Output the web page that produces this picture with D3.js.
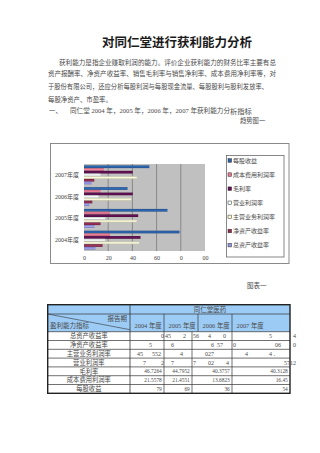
<!DOCTYPE html>
<html><head><meta charset="utf-8">
<script src="https://cdn.jsdelivr.net/npm/d3@7"></script>
<style>
html,body{margin:0;padding:0;background:#fff;}
svg{display:block;}
text{font-family:"Liberation Serif","Noto Sans CJK SC",serif;fill:#4a4a4a;}
</style></head><body>
<svg id="c" width="320" height="453"></svg>
<script>
// ---------- data ----------
const categories = ["2004年度","2005年度","2006年度","2007年度"];
const seriesNames = ["每股收益","成本费用利润率","毛利率","营业利润率","主营业务利润率","净资产收益率","总资产收益率"];
const seriesColors = ["#2a62aa","#e07890","#5e1050","#eefefe","#fffed2","#902c52","#9494e4"];
const eps         = [79, 69, 36, 54];
const costProfit  = [21.5578, 21.4551, 13.6823, 16.45];
const grossMargin = [46.7264, 44.7952, 40.3757, 40.3128];
const opMargin    = [17.4, 17.3, 12.0, 13.6];
const mainMargin  = [45.55, 43.5, 39.03, 43.6];
const roe         = [15.4, 13.7, 6.9, 8.5];
const roa         = [9.6, 8.8, 4.4, 6.3];
const xTicks = [0, 20, 40, 60, 80, 100];
const xTickLabels = ["0","20","40","60","0","00"];

const titleText = "对同仁堂进行获利能力分析";
const paraLines = [
  "获利能力是指企业赚取利润的能力。评价企业获利能力的财务比率主要有总",
  "资产报酬率、净资产收益率、销售毛利率与销售净利率、成本费用净利率等，对",
  "于股份有限公司，还应分析每股利润与每股现金流量、每股股利与股利发放率、",
  "每股净资产、市盈率。"
];
const sectionNo = "一、";
const sectionText = "同仁堂 2004 年，2005 年，2006 年，2007 年获利能力分";
const sectionTail = "析指标";
const chartCaption = "趋势图一";
const tableCaption = "图表一";

const tableTitle = "同仁堂医药";
const headPeriod = "报告期";
const headIndicator = "盈利能力指标";
const yearHeaders = ["2004 年度","2005 年度","2006 年度","2007 年度"];
const rowLabels = ["总资产收益率","净资产收益率","主营业务利润率","营业利润率","毛利率","成本费用利润率","每股收益"];
const sp = n => "\u2007".repeat(n);
const garbledRows = [
  [sp(10)+"0", "45"+sp(4)+"2", "56"+sp(3)+"4"+sp(4)+"0", sp(12)+"5"+sp(7)+"4"],
  [sp(6)+"5", sp(2)+"6", sp(6)+"6"+sp(1)+"57", "0"+sp(13)+"06"+sp(4)+"0"],
  [sp(2)+"45"+sp(3)+"552", sp(5)+"4", sp(4)+"027", sp(4)+"4"+sp(7)+"4 ."],
  [sp(4)+"7"+sp(5)+"2", sp(2)+"7", "7"+sp(4)+"02"+sp(4)+"4", sp(17)+"5712"]
];
const numericRows = [
  ["46.7264","44.7952","40.3757","40.3128"],
  ["21.5578","21.4551","13.6823","16.45"],
  ["79","69","36","54"]
];

// ---------- drawing ----------
const svg = d3.select("#c");
const seriesValues = [eps, costProfit, grossMargin, opMargin, mainMargin, roe, roa];

// Title
svg.append("text").attr("x",102).attr("y",46.5)
  .attr("font-family","Noto Sans CJK SC").attr("font-weight","bold")
  .attr("font-size",12.5).attr("textLength",150).attr("lengthAdjust","spacingAndGlyphs")
  .style("fill","#1a1a1a").text(titleText);

// paragraph
const paraX = [59,48,48,48], paraY = [64.5,75.8,88.5,101.5], paraLen = [217,228,220,null];
paraLines.forEach((t,i)=>{
  const el = svg.append("text").attr("x",paraX[i]).attr("y",paraY[i])
    .attr("font-size",6.4).attr("font-family","Noto Sans CJK SC").text(t);
  if (paraLen[i]) el.attr("textLength",paraLen[i]).attr("lengthAdjust","spacingAndGlyphs");
});
svg.append("text").attr("x",49).attr("y",113.2).attr("font-size",6.4)
  .attr("font-family","Noto Sans CJK SC").text(sectionNo);
svg.append("text").attr("x",70).attr("y",113.2).attr("font-size",6.4)
  .attr("textLength",160).attr("lengthAdjust","spacingAndGlyphs").text(sectionText);
svg.append("text").attr("x",230).attr("y",113.5).attr("font-size",7.3)
  .attr("font-family","Noto Sans CJK SC").text(sectionTail);
svg.append("text").attr("x",240).attr("y",123.2).attr("font-size",6.3)
  .attr("font-family","Noto Sans CJK SC").text(chartCaption);

// ---------- chart ----------
svg.append("rect").attr("x",50.5).attr("y",143.5).attr("width",238.5).attr("height",120)
  .attr("fill","#fff").attr("stroke","#8a8a8a").attr("stroke-width",1);

const x = d3.scaleLinear().domain([0,100]).range([84,205]);
const y0 = d3.scaleBand().domain(categories.slice().reverse()).range([164,251])
  .paddingInner(0.13).paddingOuter(0.065);
const y1 = d3.scaleBand().domain(seriesNames).range([0,y0.bandwidth()]);

svg.append("rect").attr("x",x(0)).attr("y",164).attr("width",x(100)-x(0)).attr("height",87)
  .attr("fill","#c0c0c0");

svg.append("g").selectAll("line").data(xTicks.slice(1,-1)).join("line")
  .attr("x1",d=>x(d)).attr("x2",d=>x(d)).attr("y1",164).attr("y2",251)
  .attr("stroke","#7a7a7a").attr("stroke-width",0.8);

const defs = svg.append("defs");
seriesColors.forEach((c,i)=>{
  const g = defs.append("linearGradient").attr("id","g"+i)
    .attr("x1",0).attr("y1",0).attr("x2",0).attr("y2",1);
  const base = d3.color(c);
  g.append("stop").attr("offset","0%").attr("stop-color",base.darker(0.7));
  g.append("stop").attr("offset","50%").attr("stop-color",base.brighter(0.25));
  g.append("stop").attr("offset","100%").attr("stop-color",base.darker(0.7));
});

const groups = svg.append("g").selectAll("g").data(categories).join("g")
  .attr("transform",d=>`translate(0,${y0(d)})`);
groups.selectAll("rect").data((cat,ci)=>seriesNames.map((s,si)=>({s,si,v:seriesValues[si][ci]})))
  .join("rect")
  .attr("x",x(0)).attr("y",d=>y1(d.s)).attr("height",y1.bandwidth())
  .attr("width",d=>x(d.v)-x(0)).attr("fill",d=>`url(#g${d.si})`);

const xAxis = d3.axisBottom(x).tickValues(xTicks).tickSize(0)
  .tickFormat((d,i)=>xTickLabels[i]);
const gx = svg.append("g").attr("transform","translate(0,253)").call(xAxis);
gx.select(".domain").remove();
gx.selectAll("text").attr("font-size",6).attr("font-family","Liberation Serif").style("fill","#444");

const yAxis = d3.axisLeft(y0).tickSize(0).tickPadding(5);
const gy = svg.append("g").attr("transform",`translate(${x(0)},0)`).call(yAxis);
gy.select(".domain").remove();
gy.selectAll("text").attr("font-size",6).style("fill","#444");

// legend
svg.append("rect").attr("x",226.5).attr("y",155.5).attr("width",57.5).attr("height",101.5)
  .attr("fill","#fff").attr("stroke","#6a6a6a").attr("stroke-width",0.8);
const lg = svg.append("g").selectAll("g").data(seriesNames).join("g")
  .attr("transform",(d,i)=>`translate(228,${160.5+i*14.1})`);
lg.append("rect").attr("x",0).attr("y",-1.8).attr("width",3.6).attr("height",3.6)
  .attr("fill",(d,i)=>seriesColors[i]).attr("stroke","#333").attr("stroke-width",0.5);
lg.append("text").attr("x",5).attr("y",2.1).attr("font-size",6)
  .attr("font-family","Noto Sans CJK SC").text(d=>d);

// caption
svg.append("text").attr("x",247).attr("y",287.5).attr("font-size",6.5)
  .attr("font-family","Noto Sans CJK SC").text(tableCaption);

// ---------- table ----------
const T = {left:47.7, right:290, top:304.7, h1:314, h2:331.7, bottom:393.3, c1:130};
const dataCols = [130,164,192,232,290];
const headCols = [130,164,198,232,290];
const tg = svg.append("g");
tg.append("rect").attr("x",T.left).attr("y",T.top).attr("width",T.right-T.left).attr("height",T.h2-T.top)
  .attr("fill","#9ccbf5");
const rowY = d3.scaleBand().domain(rowLabels).range([T.h2,T.bottom]);
rowLabels.forEach(r=>{
  tg.append("line").attr("x1",T.left).attr("x2",T.right).attr("y1",rowY(r)).attr("y2",rowY(r))
    .attr("stroke","#333").attr("stroke-width",0.7);
});
tg.append("line").attr("x1",T.left).attr("x2",T.right).attr("y1",T.h1).attr("y2",T.h1)
  .attr("stroke","#333").attr("stroke-width",0.7);
tg.append("line").attr("x1",T.c1).attr("x2",T.c1).attr("y1",T.top).attr("y2",T.bottom)
  .attr("stroke","#333").attr("stroke-width",0.8);
headCols.slice(1,-1).forEach(cx=>tg.append("line").attr("x1",cx).attr("x2",cx)
  .attr("y1",T.h1).attr("y2",T.h2).attr("stroke","#333").attr("stroke-width",0.7));
dataCols.slice(1,-1).forEach(cx=>tg.append("line").attr("x1",cx).attr("x2",cx)
  .attr("y1",T.h2).attr("y2",T.bottom).attr("stroke","#333").attr("stroke-width",0.7));
tg.append("line").attr("x1",T.left).attr("y1",T.h1).attr("x2",T.c1).attr("y2",T.h2-2)
  .attr("stroke","#333").attr("stroke-width",0.6);
tg.append("rect").attr("x",T.left).attr("y",T.top).attr("width",T.right-T.left).attr("height",T.bottom-T.top)
  .attr("fill","none").attr("stroke","#222").attr("stroke-width",1.4);

tg.append("text").attr("x",(T.c1+T.right)/2).attr("y",312).attr("text-anchor","middle")
  .attr("font-size",6.5).attr("font-family","Noto Sans CJK SC").text(tableTitle);
tg.append("text").attr("x",127).attr("y",320.5).attr("text-anchor","end")
  .attr("font-size",6.5).attr("font-family","Noto Sans CJK SC").text(headPeriod);
tg.append("text").attr("x",50).attr("y",328).attr("font-size",6.5)
  .attr("font-family","Noto Sans CJK SC").text(headIndicator);
yearHeaders.forEach((t,i)=>{
  tg.append("text").attr("x",headCols[i]+4.5).attr("y",327.5).attr("font-size",6.4).text(t);
});
rowLabels.forEach(r=>{
  tg.append("text").attr("x",(T.left+T.c1)/2).attr("y",rowY(r)+rowY.bandwidth()/2+2.3)
    .attr("text-anchor","middle").attr("font-size",6.3).attr("font-family","Noto Sans CJK SC").text(r);
});
garbledRows.forEach((cells,ri)=>{
  cells.forEach((t,ci)=>{
    tg.append("text").attr("x",dataCols[ci]+1).attr("y",rowY(rowLabels[ri])+rowY.bandwidth()/2+2.2)
      .attr("font-size",6).style("white-space","pre").text(t);
  });
});
numericRows.forEach((cells,ri)=>{
  cells.forEach((t,ci)=>{
    tg.append("text").attr("x",dataCols[ci+1]-2.2).attr("y",rowY(rowLabels[ri+4])+rowY.bandwidth()/2+2)
      .attr("text-anchor","end").attr("font-size",5.4).text(t);
  });
});
</script>
</body></html>
